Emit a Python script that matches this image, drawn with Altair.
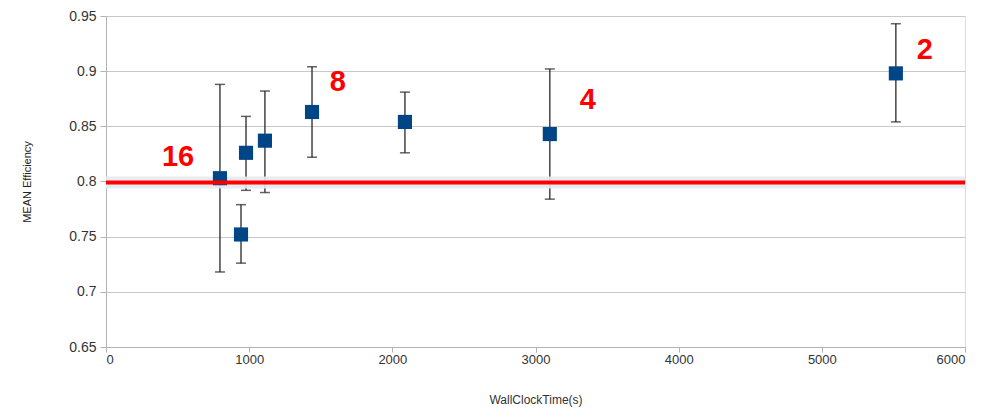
import altair as alt
import pandas as pd

# Data
wall_time = [796, 943, 978, 1110, 1439, 2088, 3100, 5517]
efficiency = [0.803, 0.752, 0.826, 0.837, 0.863, 0.854, 0.843, 0.898]
err_low = [0.718, 0.726, 0.792, 0.790, 0.822, 0.826, 0.784, 0.854]
err_high = [0.888, 0.779, 0.859, 0.882, 0.904, 0.881, 0.902, 0.943]

label_text = ["16", "8", "4", "2"]
label_x = [503, 1620, 3366, 5719]
label_y = [0.822, 0.890, 0.874, 0.919]

threshold = [0.799]

df = pd.DataFrame({"t": wall_time, "eff": efficiency, "lo": err_low, "hi": err_high})
labels = pd.DataFrame({"text": label_text, "x": label_x, "y": label_y})
thr = pd.DataFrame({"y": threshold})

FONT = "Liberation Sans"

xscale = alt.Scale(domain=[0, 6000], nice=False)
yscale = alt.Scale(domain=[0.65, 0.95], nice=False, zero=False)

xenc = alt.X("t:Q", scale=xscale, title="WallClockTime(s)",
             axis=alt.Axis(values=[0, 1000, 2000, 3000, 4000, 5000, 6000], grid=False,
                           format="d",
                           labelFont=FONT, labelFontSize=13, labelColor="#333333",
                           titleFont=FONT, titleFontSize=12, titleFontWeight="normal",
                           titleColor="#333333", titlePadding=28, labelPadding=1,
                           tickColor="#b3b3b3", domainColor="#b3b3b3", tickSize=5))

base = alt.Chart(df)

glow = alt.Chart(thr).mark_rule(color="#e2ebf2", strokeWidth=12, opacity=0.9).encode(
    y=alt.Y("y:Q", scale=yscale))

redline = alt.Chart(thr).mark_rule(color="#ff0000", strokeWidth=4).encode(
    y=alt.Y("y:Q", scale=yscale))

bars = base.mark_rule(color="#222222", strokeWidth=1.5, opacity=0.85).encode(
    x=xenc,
    y=alt.Y("lo:Q", scale=yscale, title="MEAN Efficiency",
            axis=alt.Axis(values=[0.65, 0.7, 0.75, 0.8, 0.85, 0.9, 0.95], format="~g",
                          gridColor="#c8c8c8", gridWidth=1.2,
                          labelFont=FONT, labelFontSize=14, labelColor="#333333",
                          titleFont=FONT, titleFontSize=11, titleFontWeight="normal",
                          titleColor="#222222", titlePadding=36, labelPadding=4,
                          tickColor="#b3b3b3", domainColor="#b3b3b3", tickSize=6)),
    y2="hi:Q")

cap_lo = base.mark_tick(color="#222222", thickness=1.5, size=10, orient="horizontal").encode(
    x="t:Q", y=alt.Y("lo:Q", scale=yscale))
cap_hi = base.mark_tick(color="#222222", thickness=1.5, size=10, orient="horizontal").encode(
    x="t:Q", y=alt.Y("hi:Q", scale=yscale))

points = base.mark_square(color="#004586", size=200, opacity=1).encode(
    x="t:Q", y=alt.Y("eff:Q", scale=yscale))

text = alt.Chart(labels).mark_text(color="#ff0000", font=FONT, fontSize=29,
                                   fontWeight="bold").encode(
    x=alt.X("x:Q", scale=xscale), y=alt.Y("y:Q", scale=yscale), text="text:N")

chart = alt.layer(bars, glow, cap_lo, cap_hi, points, redline, text).properties(
    width=859, height=331,
    autosize=alt.AutoSizeParams(type="none"),
    padding={"left": 98, "top": 8, "right": 25, "bottom": 62},
).configure_view(stroke="#c0c0c0", strokeWidth=1.2).configure(background="white")

chart.save("out.html", embed_options={"renderer": "svg", "actions": False})
